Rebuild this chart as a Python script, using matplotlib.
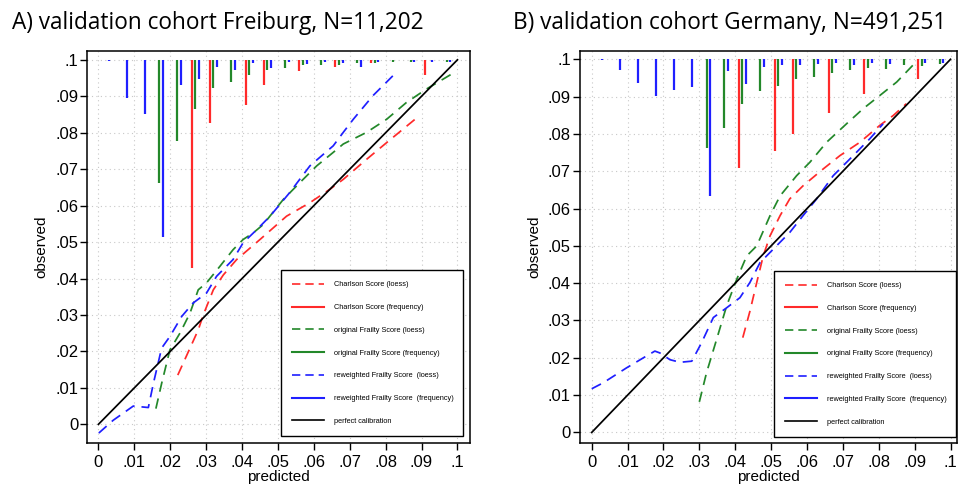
import numpy as np
import matplotlib
matplotlib.use("Agg")
import matplotlib.pyplot as plt
from matplotlib.lines import Line2D

plt.rcParams['font.family'] = ['Liberation Sans', 'DejaVu Sans']

# ---- panel A: Freiburg ----
a_red_freq_x = [.026, .031, .041, .046, .056, .066, .076, .091]
a_red_freq_y = [.0429, .0826, .0876, .0931, .0968, .0980, .0991, .0959]
a_green_freq_x = [.017, .022, .027, .032, .037, .042, .047, .052, .057, .062, .067, .072, .077, .082, .087, .097]
a_green_freq_y = [.0663, .0778, .0865, .0924, .0939, .0959, .0972, .0977, .0986, .0986, .0986, .0990, .0991, .0993, .0993, .0993]
a_blue_freq_x = [.003, .008, .013, .018, .023, .028, .033, .038, .043, .048, .053, .058, .063, .068, .073, .078, .088, .093, .098]
a_blue_freq_y = [.0997, .0894, .0851, .0513, .0932, .0948, .0979, .0971, .0990, .0977, .0994, .0988, .0994, .0990, .0981, .0994, .0993, .0994, .0994]

a_red_x = [.0221, .0278, .0292, .0320, .0348, .0385, .0450, .0524, .0589, .0645, .0682, .0747, .0803, .0882]
a_red_y = [.0135, .0259, .0300, .0369, .0410, .0452, .0507, .0571, .0608, .0645, .0672, .0727, .0773, .0837]
a_green_x = [.0160, .0176, .0199, .0227, .0255, .0278, .0301, .0338, .0375, .0403, .0431, .0459, .0515, .0561, .0608, .0654, .0682, .0747, .0803, .0858, .0914, .0984]
a_green_y = [.0043, .0112, .0204, .0250, .0305, .0369, .0388, .0433, .0479, .0507, .0525, .0548, .0617, .0663, .0709, .0746, .0769, .0801, .0837, .0883, .0920, .0961]
a_blue_x = [.0001, .0041, .0097, .0139, .0153, .0176, .0199, .0232, .0264, .0301, .0329, .0375, .0403, .0441, .0478, .0533, .0589, .0654, .0682, .0710, .0765, .0821]
a_blue_y = [-.0024, .0011, .0050, .0046, .0112, .0209, .0241, .0296, .0333, .0360, .0406, .0452, .0498, .0534, .0571, .0636, .0709, .0764, .0801, .0837, .0902, .0957]

# ---- panel B: Germany ----
b_red_freq_x = [.041, .051, .056, .066, .076, .091]
b_red_freq_y = [.0708, .0755, .0800, .0856, .0907, .0948]
b_green_freq_x = [.032, .037, .042, .047, .052, .057, .062, .067, .072, .077, .082, .087, .092, .097]
b_green_freq_y = [.0763, .0816, .0881, .0916, .0928, .0948, .0953, .0963, .0970, .0977, .0975, .0984, .0983, .0987]
b_blue_freq_x = [.003, .008, .013, .018, .023, .028, .033, .038, .043, .048, .053, .058, .063, .068, .073, .078, .083, .093, .098]
b_blue_freq_y = [.0997, .0972, .0937, .0901, .0917, .0926, .0634, .0968, .0935, .0978, .0984, .0984, .0988, .0991, .0984, .0991, .0988, .0989, .0989]

b_red_x = [.0421, .0441, .0460, .0478, .0497, .0525, .0552, .0589, .0645, .0692, .0748, .0803, .0840, .0877]
b_red_y = [.0254, .0325, .0402, .0473, .0527, .0581, .0626, .0661, .0706, .0742, .0778, .0823, .0849, .0881]
b_green_x = [.0300, .0320, .0348, .0376, .0404, .0432, .0460, .0497, .0525, .0571, .0608, .0655, .0710, .0757, .0803, .0850, .0896]
b_green_y = [.0082, .0160, .0249, .0339, .0410, .0473, .0500, .0581, .0634, .0688, .0724, .0778, .0827, .0868, .0903, .0939, .0985]
b_blue_x = [0, .0032, .0097, .0144, .0176, .0190, .0218, .0246, .0279, .0306, .0339, .0376, .0413, .0441, .0469, .0515, .0552, .0589, .0627, .0673, .0729, .0775, .0812]
b_blue_y = [.0117, .0133, .0173, .0200, .0218, .0213, .0195, .0188, .0191, .0240, .0308, .0334, .0361, .0402, .0455, .0500, .0536, .0581, .0626, .0688, .0742, .0787, .0827]

ticks = [0, .01, .02, .03, .04, .05, .06, .07, .08, .09, .1]
tick_labels = ['0', '.01', '.02', '.03', '.04', '.05', '.06', '.07', '.08', '.09', '.1']
legend_labels = ['Charlson Score (loess)', 'Charlson Score (frequency)',
                 'original Frailty Score (loess)', 'original Frailty Score (frequency)',
                 'reweighted Frailty Score  (loess)', 'reweighted Frailty Score  (frequency)',
                 'perfect calibration']

RED = '#ff2a2a'
GREEN = '#23882a'
BLUE = '#1f1fff'


def panel(ax, freq, curves, xlim, ylim, leg_anchor):
    for (fx, fy), c in zip(freq, [RED, GREEN, BLUE]):
        ax.vlines(fx, fy, 0.1, colors=c, lw=1.6, zorder=3)
    for (cx, cy), c in zip(curves, [RED, GREEN, BLUE]):
        ax.plot(cx, cy, color=c, lw=1.25, dashes=(6, 4), zorder=4)
    ax.plot([0, .1], [0, .1], color='black', lw=1.25, zorder=5)

    ax.set_xlim(*xlim)
    ax.set_ylim(*ylim)
    ax.set_xticks(ticks)
    ax.set_xticklabels(tick_labels)
    ax.set_yticks(ticks)
    ax.set_yticklabels(tick_labels)
    ax.tick_params(direction='out', length=5, width=1, labelsize=12)
    ax.tick_params(axis='y', pad=1.5)
    ax.tick_params(axis='x', pad=4)
    ax.grid(True, color='#c8c8c8', lw=0.8, linestyle=(0, (1, 3)))
    for s in ax.spines.values():
        s.set_linewidth(1.1)
    ax.set_xlabel('predicted', fontsize=11, labelpad=0)
    ax.set_ylabel('observed', fontsize=11, labelpad=5)

    handles = [
        Line2D([], [], color=RED, lw=1.2, dashes=(5, 3)),
        Line2D([], [], color=RED, lw=1.5),
        Line2D([], [], color=GREEN, lw=1.2, dashes=(5, 3)),
        Line2D([], [], color=GREEN, lw=1.5),
        Line2D([], [], color=BLUE, lw=1.2, dashes=(5, 3)),
        Line2D([], [], color=BLUE, lw=1.5),
        Line2D([], [], color='black', lw=1.2),
    ]
    leg = ax.legend(handles, legend_labels, loc='lower left', bbox_to_anchor=leg_anchor,
                    mode='expand', borderaxespad=0, fontsize=5.3, handlelength=4.35,
                    handletextpad=1.3, labelspacing=2.12, borderpad=1.5,
                    fancybox=False, edgecolor='black', framealpha=1)
    leg.get_frame().set_linewidth(1.0)
    leg.set_zorder(10)


fig = plt.figure(figsize=(9.59, 4.88), dpi=100)
ax1 = fig.add_axes([0.0912, 0.0932, 0.3989, 0.8029])
ax2 = fig.add_axes([0.6048, 0.0932, 0.3931, 0.8029])

panel(ax1,
      [(a_red_freq_x, a_red_freq_y), (a_green_freq_x, a_green_freq_y), (a_blue_freq_x, a_blue_freq_y)],
      [(a_red_x, a_red_y), (a_green_x, a_green_y), (a_blue_x, a_blue_y)],
      (-0.00306, 0.1035), (-0.0050, 0.1025), (0.506, 0.0166, 0.476, 0.43))
panel(ax2,
      [(b_red_freq_x, b_red_freq_y), (b_green_freq_x, b_green_freq_y), (b_blue_freq_x, b_blue_freq_y)],
      [(b_red_x, b_red_y), (b_green_x, b_green_y), (b_blue_x, b_blue_y)],
      (-0.00326, 0.1018), (-0.0027, 0.1023), (0.5146, 0.0148, 0.482, 0.43))

fig.text(12 / 959, 1 - 29 / 488, 'A) validation cohort Freiburg, N=11,202',
         fontsize=16.3, family='Open Sans', va='baseline', ha='left')
fig.text(513 / 959, 1 - 29 / 488, 'B) validation cohort Germany, N=491,251',
         fontsize=16.3, family='Open Sans', va='baseline', ha='left')

fig.savefig('out.png', dpi=100)
